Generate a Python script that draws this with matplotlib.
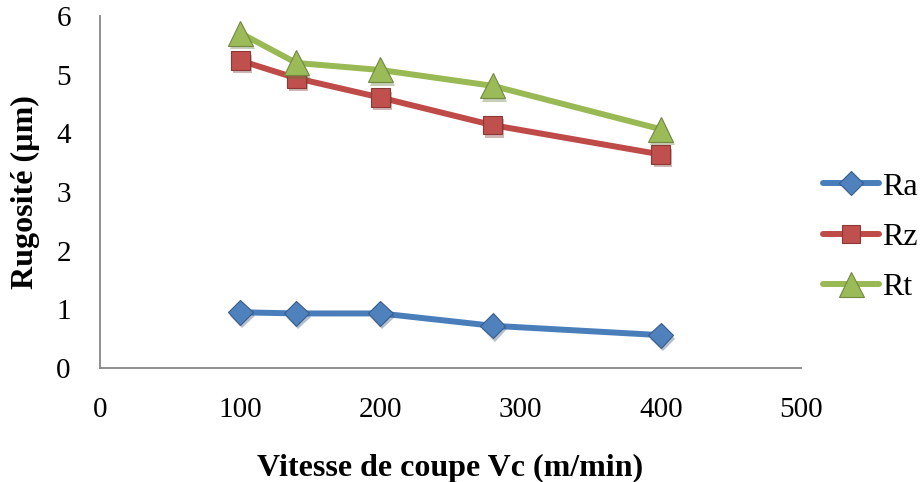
import matplotlib
matplotlib.use("Agg")
import matplotlib.pyplot as plt
import matplotlib.patheffects as pe
from matplotlib.lines import Line2D

plt.rcParams['font.family'] = ['Liberation Serif', 'DejaVu Serif']

# Cutting speed (m/min) and roughness parameters (µm)
vc = [100, 140, 200, 280, 400]
ra = [0.95, 0.93, 0.93, 0.72, 0.56]
rz = [5.24, 4.94, 4.61, 4.14, 3.64]
rt = [5.71, 5.20, 5.08, 4.81, 4.07]

series_names = ["Ra", "Rz", "Rt"]
x_ticks = [0, 100, 200, 300, 400, 500]
y_ticks = [0, 1, 2, 3, 4, 5, 6]

styles = [
    dict(values=ra, line="#4A7EBB", face="#4F81BD", edge="#385D8A", marker="D", ms=12.7),
    dict(values=rz, line="#BE4B48", face="#C0504D", edge="#8C3836", marker="s", ms=13.5),
    dict(values=rt, line="#98B954", face="#9BBB59", edge="#71893F", marker="^", ms=18),
]

fig = plt.figure(figsize=(9.21, 4.82), dpi=100)
ax = fig.add_axes([100 / 921, 1 - 368 / 482, 701 / 921, 352 / 482])

shadow = [pe.SimplePatchShadow(offset=(1.5, -2.5), alpha=0.35, rho=0.6), pe.Normal()]

handles = []
for name, st in zip(series_names, styles):
    ax.plot(vc, st["values"], color=st["line"], lw=4.3, solid_capstyle="round",
            solid_joinstyle="round", zorder=2)
    ax.plot(vc, st["values"], ls="none", marker=st["marker"], ms=st["ms"],
            markerfacecolor=st["face"], markeredgecolor=st["edge"], markeredgewidth=0.8,
            path_effects=shadow, zorder=3)
    handles.append(Line2D([], [], color=st["line"], lw=4.3, solid_capstyle="round",
                          marker=st["marker"], ms=st["ms"], markerfacecolor=st["face"],
                          markeredgecolor=st["edge"], markeredgewidth=0.8, label=name))

ax.set_xlim(0, 500)
ax.set_ylim(0, 6)
ax.set_xticks(x_ticks)
ax.set_yticks(y_ticks)
ax.tick_params(axis="both", length=0, labelsize=21)
ax.tick_params(axis="x", pad=21)
ax.tick_params(axis="y", pad=21)

for side in ("top", "right"):
    ax.spines[side].set_visible(False)
for side in ("left", "bottom"):
    ax.spines[side].set_color("#868686")
    ax.spines[side].set_linewidth(1.3)

ax.set_xlabel("Vitesse de coupe Vc (m/min)", fontsize=23, fontweight="bold", labelpad=22)
ax.set_ylabel("Rugosité (µm)", fontsize=23, fontweight="bold", labelpad=12)

fig.legend(handles=handles, loc="center left", bbox_to_anchor=(823 / 921, 1 - 237 / 482),
           frameon=False, fontsize=23, handlelength=1.75, handletextpad=0.1,
           labelspacing=0.65, borderpad=0, borderaxespad=0)

fig.savefig("out.png", dpi=100)
